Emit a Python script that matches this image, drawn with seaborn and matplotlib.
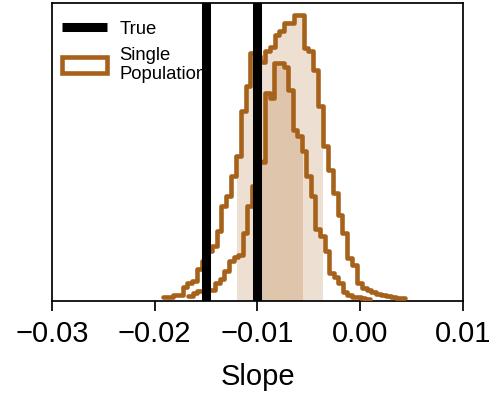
import numpy as np
import pandas as pd
import matplotlib
matplotlib.use("Agg")
import matplotlib.pyplot as plt
import seaborn as sns
from matplotlib.patches import Rectangle, Patch
from matplotlib.lines import Line2D

# ---------------- data ----------------
true_slopes = [-0.015, -0.010]

# broad histogram (outer envelope)
a_range = (-0.01917, 0.00438)
a_counts = [4, 4, 6, 6, 14, 18, 20, 32, 40, 50,
            55, 70, 95, 105, 125, 145, 190, 215, 248, 245,
            239, 250, 254, 266, 270, 278, 278, 286, 286, 253,
            250, 231, 195, 155, 131, 108, 86, 68, 43, 36,
            18, 13, 11, 9, 7, 6, 5, 4, 3, 3]

# narrower histogram
b_range = (-0.01676, 0.00095)
b_counts = [5, 8, 10, 10, 11, 11, 18, 22, 30, 40,
            44, 46, 68, 95, 115, 140, 139, 208, 203, 238,
            238, 234, 211, 171, 165, 150, 125, 105, 72, 65,
            50, 28, 24, 18, 9, 6, 4, 4, 3, 2]

a_interval = (-0.01197, -0.00375)
b_interval = (-0.00995, -0.00570)

xticks = [-0.03, -0.02, -0.01, 0.00, 0.01]
xtick_labels = ["\u22120.03", "\u22120.02", "\u22120.01", "0.00", "0.01"]
legend_labels = ["True", "Single\nPopulation"]
xlabel = "Slope"

brown = "#a6611a"

# ---------------- style ----------------
sns.set_style("ticks")
plt.rcParams["font.family"] = ["Liberation Sans", "DejaVu Sans"]
plt.rcParams["text.color"] = "black"
plt.rcParams["axes.labelcolor"] = "black"
plt.rcParams["xtick.color"] = "black"
plt.rcParams["axes.edgecolor"] = "black"

fig = plt.figure(figsize=(5.0, 3.94), dpi=100)
ax = fig.add_axes([52 / 500, 1 - 301 / 394, (463 - 52) / 500, (301 - 3) / 394])


def hist_frame(rng, counts):
    edges = np.linspace(rng[0], rng[1], len(counts) + 1)
    centers = 0.5 * (edges[:-1] + edges[1:])
    return pd.DataFrame({"slope": centers, "count": np.asarray(counts, float)})


a_df = hist_frame(a_range, a_counts)
b_df = hist_frame(b_range, b_counts)

# shaded intervals (fills under each histogram, clipped to the interval)
for df, rng, nb, (lo, hi) in [
    (a_df, a_range, len(a_counts), a_interval),
    (b_df, b_range, len(b_counts), b_interval),
]:
    n_before = len(ax.collections)
    n_patches = len(ax.patches)
    sns.histplot(data=df, x="slope", weights="count", bins=nb, binrange=rng,
                 element="step", fill=True, alpha=0.2, linewidth=0,
                 color=brown, ax=ax, zorder=1)
    rect = Rectangle((lo, 0), hi - lo, 1, transform=ax.get_xaxis_transform())
    for coll in ax.collections[n_before:]:
        coll.set_clip_path(rect)
    for p in ax.patches[n_patches:]:
        p.set_clip_path(rect)

# outlines
for df, rng, nb in [(a_df, a_range, len(a_counts)),
                    (b_df, b_range, len(b_counts))]:
    sns.histplot(data=df, x="slope", weights="count", bins=nb, binrange=rng,
                 element="step", fill=False, linewidth=3.3, color=brown,
                 ax=ax, zorder=3)

for v in true_slopes:
    ax.axvline(v, color="black", lw=6.5, zorder=6)

ax.set_xlim(-0.03, 0.01)
ax.set_ylim(0, 298)
ax.set_xticks(xticks)
ax.set_xticklabels(xtick_labels)
ax.set_yticks([])
ax.set_ylabel("")
ax.set_xlabel(xlabel, fontsize=21, labelpad=11)
ax.tick_params(axis="x", labelsize=21, length=7.5, width=1.25,
               direction="out", pad=6, color="black", labelcolor="black")
for s in ax.spines.values():
    s.set_visible(True)
    s.set_color("black")
    s.set_linewidth(1.25)

handles = [Line2D([], [], color="black", lw=6.5, solid_capstyle="butt"),
           Patch(facecolor="white", edgecolor=brown, lw=3.3)]
leg = ax.legend(handles, legend_labels, loc="upper left", frameon=False,
                fontsize=13.3, handlelength=2.45, handletextpad=0.66,
                handleheight=0.95, borderaxespad=0.0, labelspacing=0.45,
                bbox_to_anchor=(0.006, 0.968))
leg.set_zorder(5)

fig.savefig("out.png", dpi=100)
